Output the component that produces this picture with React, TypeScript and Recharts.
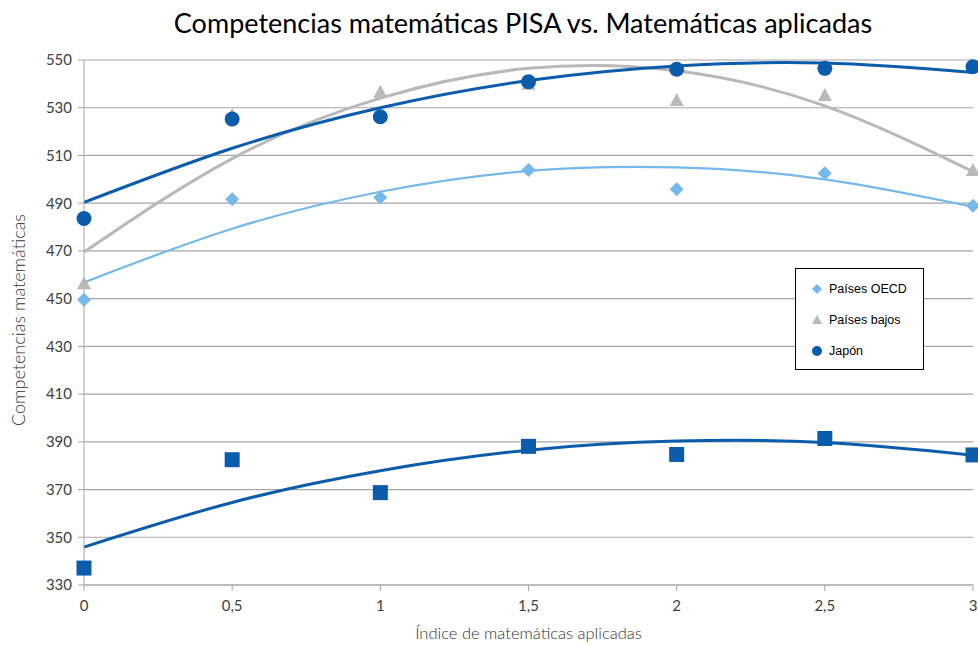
import React from "react";
import { ComposedChart, Line, Scatter, XAxis, YAxis, CartesianGrid } from "recharts";

// valores
const indices = [0, 0.5, 1, 1.5, 2, 2.5, 3];
const paisesOecd = [449.5, 491.7, 492.4, 503.9, 495.8, 502.5, 488.9];
const paisesBajos = [456.4, 527, 536.7, 540, 533.2, 535.3, 503.9];
const japon = [483.6, 525.3, 526.2, 540.9, 546.1, 546.5, 547.2];
const otros = [337.1, 382.5, 368.7, 388.1, 384.7, 391.4, 384.5];

const tendenciaOecd = [456.8, 479.3, 494.8, 503.5, 505, 500, 488.5];
const tendenciaBajos = [469.5, 508.7, 534, 546.5, 545.5, 530.8, 503.2];
const tendenciaJapon = [490.3, 513, 530, 541.4, 547.5, 548.7, 544.8];
const tendenciaOtros = [345.9, 364.6, 377.9, 386.5, 390.3, 389.7, 384.4];

const yTicks = [330, 350, 370, 390, 410, 430, 450, 470, 490, 510, 530, 550];

const LIGHT = "#74b9ea";
const GREY = "#b9b9b9";
const DARK = "#0b5cab";

const rows = indices.map((x, i) => ({
  x,
  oecd: paisesOecd[i],
  bajos: paisesBajos[i],
  japon: japon[i],
  otros: otros[i],
  tOecd: tendenciaOecd[i],
  tBajos: tendenciaBajos[i],
  tJapon: tendenciaJapon[i],
  tOtros: tendenciaOtros[i],
}));

const Diamond = ({ cx, cy, r = 7, fill = LIGHT }: any) => (
  <polygon points={`${cx},${cy - r} ${cx + r},${cy} ${cx},${cy + r} ${cx - r},${cy}`} fill={fill} />
);
const Triangle = ({ cx, cy, r = 7, fill = GREY }: any) => (
  <polygon points={`${cx},${cy - r} ${cx + r},${cy + r - 1} ${cx - r},${cy + r - 1}`} fill={fill} />
);
const Dot = ({ cx, cy, r = 7.5, fill = DARK }: any) => <circle cx={cx} cy={cy} r={r} fill={fill} />;
const Square = ({ cx, cy, fill = DARK }: any) => (
  <rect x={cx - 7.5} y={cy - 7.5} width={15} height={15} fill={fill} />
);

const legendItems = [
  { label: "Países OECD", icon: (y: number) => <Diamond cx={8} cy={y} r={5} /> },
  { label: "Países bajos", icon: (y: number) => <Triangle cx={8} cy={y} r={5} /> },
  { label: "Japón", icon: (y: number) => <Dot cx={8} cy={y} r={5} /> },
];

const LegendBox = () => (
  <div
    style={{
      position: "absolute",
      left: 795,
      top: 268,
      width: 127,
      height: 100,
      border: "1.5px solid #000",
      background: "#fff",
      fontFamily: "'Liberation Sans', Arial, sans-serif",
      fontSize: 12.5,
      color: "#000",
    }}
  >
    {legendItems.map((it, i) => (
      <div
        key={it.label}
        style={{ position: "absolute", left: 13, top: 12 + i * 31, display: "flex", alignItems: "center" }}
      >
        <svg width={16} height={16} style={{ marginRight: 4 }}>
          {it.icon(8)}
        </svg>
        <span>{it.label}</span>
      </div>
    ))}
  </div>
);

const tickStyle = { fontSize: 15, fill: "#404040", fontFamily: "Lato, sans-serif" };

export default function App() {
  return (
    <div style={{ position: "relative", width: 978, height: 645, background: "#fff" }}>
      <style>{`body{margin:0}`}</style>
      <ComposedChart
        width={978}
        height={645}
        data={rows}
        margin={{ top: 60, right: 5, bottom: 0, left: 0 }}
        style={{ position: "absolute", top: 0, left: 0 }}
      >
        <CartesianGrid vertical={false} stroke="#a6a6a6" strokeWidth={1.2} />
        <XAxis
          dataKey="x"
          type="number"
          domain={[0, 3]}
          ticks={indices}
          tickFormatter={(v: number) => String(v).replace(".", ",")}
          tick={tickStyle}
          tickSize={6}
          tickMargin={9}
          stroke="#a6a6a6"
          height={60}
        />
        <YAxis
          type="number"
          domain={[330, 550]}
          ticks={yTicks}
          tick={tickStyle}
          tickSize={6}
          tickMargin={6}
          stroke="#a6a6a6"
          width={84}
          interval={0}
        />
        <Line dataKey="tOecd" type="natural" stroke={LIGHT} strokeWidth={2.2} dot={false} isAnimationActive={false} />
        <Line dataKey="tBajos" type="natural" stroke={GREY} strokeWidth={3} dot={false} isAnimationActive={false} />
        <Line dataKey="tJapon" type="natural" stroke={DARK} strokeWidth={3} dot={false} isAnimationActive={false} />
        <Line dataKey="tOtros" type="natural" stroke={DARK} strokeWidth={3} dot={false} isAnimationActive={false} />
        <Scatter dataKey="oecd" shape={(p: any) => <Diamond cx={p.cx} cy={p.cy} />} isAnimationActive={false} />
        <Scatter dataKey="bajos" shape={(p: any) => <Triangle cx={p.cx} cy={p.cy} />} isAnimationActive={false} />
        <Scatter dataKey="japon" shape={(p: any) => <Dot cx={p.cx} cy={p.cy} />} isAnimationActive={false} />
        <Scatter dataKey="otros" shape={(p: any) => <Square cx={p.cx} cy={p.cy} />} isAnimationActive={false} />
      </ComposedChart>
      <LegendBox />
      <div
        style={{
          position: "absolute",
          top: 6,
          left: 0,
          width: 1046,
          textAlign: "center",
          fontFamily: "Lato, sans-serif",
          fontSize: 27,
          color: "#000",
        }}
      >
        Competencias matemáticas PISA vs. Matemáticas aplicadas
      </div>
      <div
        style={{
          position: "absolute",
          left: 18,
          top: 320,
          transform: "translate(-50%, -50%) rotate(-90deg)",
          whiteSpace: "nowrap",
          fontFamily: "Lato, sans-serif",
          fontWeight: 300,
          fontSize: 18,
          color: "#333",
        }}
      >
        Competencias matemáticas
      </div>
      <div
        style={{
          position: "absolute",
          left: 84,
          width: 889,
          top: 623,
          textAlign: "center",
          fontFamily: "Lato, sans-serif",
          fontWeight: 300,
          fontSize: 16.5,
          color: "#333",
        }}
      >
        Índice de matemáticas aplicadas
      </div>
    </div>
  );
}
